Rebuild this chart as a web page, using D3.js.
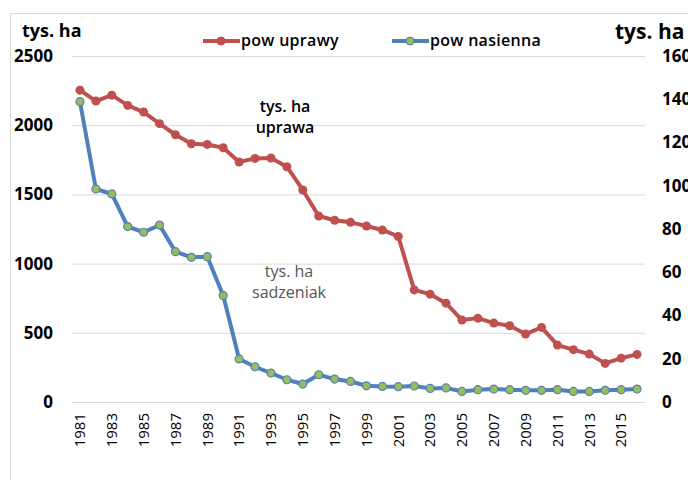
<!DOCTYPE html>
<html><head><meta charset="utf-8">
<script src="https://cdn.jsdelivr.net/npm/d3@7"></script>
<style>body{margin:0;background:#fff}svg{display:block}</style>
</head><body><svg id="c" width="688" height="480"></svg>
<script>
const years = d3.range(1981, 2017);
const powUprawy = [2253,2174,2217,2143,2095,2011,1931,1866,1861,1837,1734,1760,1763,1700,1532,1344,1313,1298,1272,1243,1196,810,779,714,592,606,570,551,491,539,411,378,346,279,317,344];
const powNasienna = [138.9,98.5,96.2,81.1,78.5,81.8,69.5,66.9,67.2,49.2,19.9,16.3,13.4,10.3,8.3,12.6,10.6,9.5,7.5,7.2,7.1,7.4,6.3,6.5,4.9,5.7,6.0,5.7,5.4,5.4,5.7,4.9,4.9,5.4,5.7,6.0];
const leftTicks = [0,500,1000,1500,2000,2500];
const rightTicks = [0,20,40,60,80,100,120,140,160];
const xTickYears = years.filter(y => (y-1981)%2===0);

const font = "'Open Sans', sans-serif";
const svg = d3.select("#c");
const L=72, R=645, T=56, B=402;

svg.append("rect").attr("x",10.5).attr("y",13.5).attr("width",700).attr("height",500)
  .attr("fill","none").attr("stroke","#d9d9d9");

const x = d3.scaleBand().domain(years).range([L,R]).padding(0);
const cx = d => x(d)+x.bandwidth()/2;
const yL = d3.scaleLinear().domain([0,2500]).range([B,T]);
const yR = d3.scaleLinear().domain([0,160]).range([B,T]);

// gridlines
svg.append("g").selectAll("line").data(leftTicks).join("line")
  .attr("x1",L).attr("x2",R).attr("y1",d=>yL(d)+0.5).attr("y2",d=>yL(d)+0.5)
  .attr("stroke","#d9d9d9").attr("stroke-width",1);

// left axis
const ga = svg.append("g").attr("transform",`translate(${L},0)`)
  .call(d3.axisLeft(yL).tickValues(leftTicks).tickFormat(d3.format("d")).tickSize(0).tickPadding(19));
ga.select(".domain").remove();
ga.selectAll("text").attr("font-family",font).attr("font-size",17).attr("font-weight","bold").attr("fill","#000");

// right axis
const gr = svg.append("g").attr("transform",`translate(${R},0)`)
  .call(d3.axisRight(yR).tickValues(rightTicks).tickFormat(d3.format("d")).tickSize(0).tickPadding(17));
gr.select(".domain").remove();
gr.selectAll("text").attr("font-family",font).attr("font-size",17).attr("font-weight","bold").attr("fill","#000");

// x axis
const gx = svg.append("g").attr("transform",`translate(0,${B})`)
  .call(d3.axisBottom(x).tickValues(xTickYears).tickSize(0).tickPadding(0));
gx.select(".domain").remove();
gx.selectAll("text").attr("font-family",font).attr("font-size",15).attr("fill","#000")
  .attr("transform","rotate(-90)").attr("text-anchor","end").attr("dx","-11").attr("dy","0.35em").attr("y",0);

// lines
const lineL = d3.line().x((d,i)=>cx(years[i])).y(d=>yL(d));
const lineR = d3.line().x((d,i)=>cx(years[i])).y(d=>yR(d));
svg.append("path").attr("d",lineL(powUprawy)).attr("fill","none").attr("stroke","#C0504D").attr("stroke-width",4).attr("stroke-linejoin","round");
svg.append("g").selectAll("circle").data(powUprawy).join("circle")
  .attr("cx",(d,i)=>cx(years[i])).attr("cy",d=>yL(d)).attr("r",4.5).attr("fill","#C0504D");
svg.append("path").attr("d",lineR(powNasienna)).attr("fill","none").attr("stroke","#4F81BD").attr("stroke-width",4).attr("stroke-linejoin","round");
svg.append("g").selectAll("circle").data(powNasienna).join("circle")
  .attr("cx",(d,i)=>cx(years[i])).attr("cy",d=>yR(d)).attr("r",4).attr("fill","#9BBB59").attr("stroke","#4F81BD").attr("stroke-width",1.2);

// titles
svg.append("text").attr("x",22).attr("y",37).text("tys. ha").attr("font-family",font).attr("font-size",18).attr("font-weight","bold");
svg.append("text").attr("x",615).attr("y",39).text("tys. ha").attr("font-family",font).attr("font-size",21).attr("font-weight","bold");

// legend
const leg = [{t:"pow uprawy",c:"#C0504D",f:"#C0504D",x1:203},{t:"pow nasienna",c:"#4F81BD",f:"#9BBB59",x1:392}];
leg.forEach(l=>{
  svg.append("line").attr("x1",l.x1).attr("x2",l.x1+37).attr("y1",41).attr("y2",41).attr("stroke",l.c).attr("stroke-width",4);
  svg.append("circle").attr("cx",l.x1+18).attr("cy",41).attr("r",4).attr("fill",l.f).attr("stroke",l.c).attr("stroke-width",1);
  svg.append("text").attr("x",l.x1+38).attr("y",46).text(l.t).attr("font-family",font).attr("font-size",16).attr("font-weight","600").attr("letter-spacing",0.3).attr("fill","#000");
});

// annotations
const ann = svg.append("g").attr("font-family",font).attr("font-size",16).attr("text-anchor","middle");
ann.append("text").attr("x",285).attr("y",112).text("tys. ha").attr("font-weight","600");
ann.append("text").attr("x",285).attr("y",133).text("uprawa").attr("font-weight","600");
ann.append("text").attr("x",289).attr("y",277).text("tys. ha").attr("fill","#555");
ann.append("text").attr("x",289).attr("y",298).text("sadzeniak").attr("fill","#555");
</script></body></html>
